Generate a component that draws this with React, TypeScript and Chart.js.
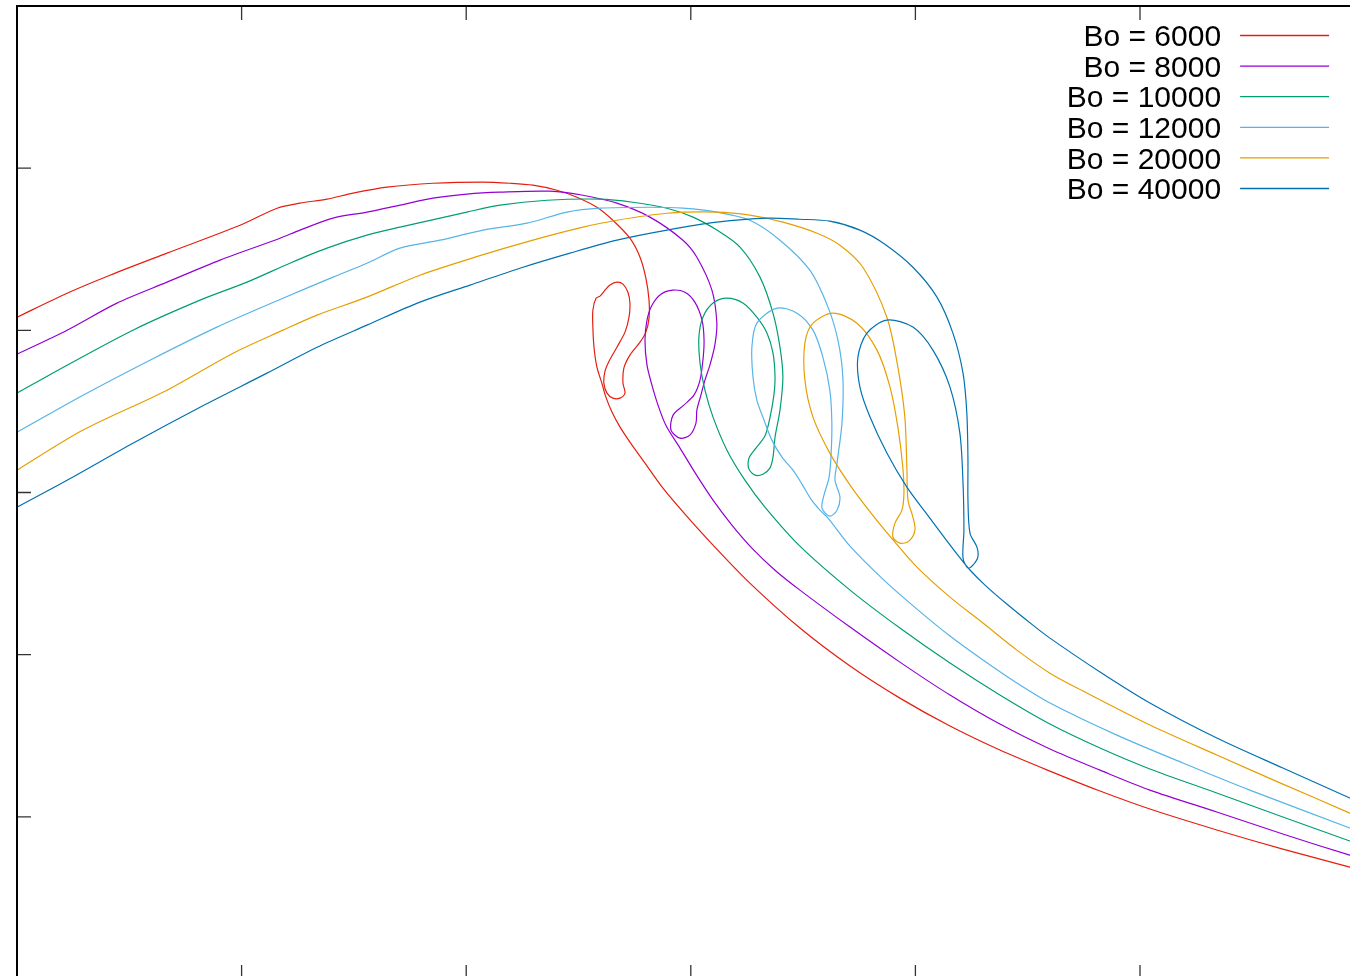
import React, { useEffect, useRef } from "react";
import { Chart, registerables } from "chart.js";

Chart.register(...registerables);

const seriesLabels = ["Bo = 6000", "Bo = 8000", "Bo = 10000", "Bo = 12000", "Bo = 20000", "Bo = 40000"];
const seriesColors = ["#e51e10", "#9400d3", "#009e73", "#56b4e9", "#e69f00", "#0072b2"];
const xTicks = [1, 2, 3, 4, 5];
const yTicks = [1, 2, 3, 4, 5];

const bo6000: [number, number][] = [
  [0, 4.081], [0.223, 4.229], [0.414, 4.34], [0.668, 4.476], [0.993, 4.648], [1.158, 4.753], [1.26, 4.784],
  [1.38, 4.809], [1.496, 4.846], [1.647, 4.883], [1.852, 4.907], [2.075, 4.914], [2.195, 4.907], [2.297, 4.895],
  [2.404, 4.864], [2.493, 4.821], [2.582, 4.759], [2.653, 4.679], [2.729, 4.568], [2.774, 4.451], [2.8, 4.322],
  [2.814, 4.186], [2.814, 4.075], [2.8, 3.989], [2.774, 3.927], [2.729, 3.847], [2.702, 3.767], [2.698, 3.674],
  [2.707, 3.613], [2.685, 3.582], [2.653, 3.582], [2.627, 3.613], [2.613, 3.674], [2.618, 3.748], [2.636, 3.81],
  [2.671, 3.896], [2.707, 3.989], [2.725, 4.081], [2.729, 4.168], [2.72, 4.235], [2.698, 4.285], [2.671, 4.297],
  [2.64, 4.279], [2.618, 4.248], [2.596, 4.211], [2.578, 4.198], [2.564, 4.124], [2.564, 4.02], [2.569, 3.896],
  [2.582, 3.773], [2.604, 3.674], [2.622, 3.588], [2.649, 3.496], [2.685, 3.403], [2.729, 3.311], [2.796, 3.181],
  [2.876, 3.027], [2.974, 2.867], [3.099, 2.676], [3.263, 2.441], [3.486, 2.164], [3.709, 1.93], [3.931, 1.732],
  [4.154, 1.56], [4.376, 1.412], [4.599, 1.282], [4.822, 1.159], [5.044, 1.048], [5.342, 0.919], [5.636, 0.801],
  [5.934, 0.69], [6.001, 0.666],
];

const bo8000: [number, number][] = [
  [0, 3.853], [0.223, 4.001], [0.445, 4.168], [0.668, 4.297], [0.904, 4.433], [1.171, 4.568], [1.26, 4.618],
  [1.407, 4.692], [1.558, 4.729], [1.705, 4.772], [1.852, 4.815], [2.003, 4.84], [2.15, 4.852], [2.373, 4.858],
  [2.52, 4.833], [2.671, 4.784], [2.818, 4.698], [2.965, 4.556], [3.027, 4.451], [3.094, 4.248], [3.116, 4.044],
  [3.107, 3.909], [3.085, 3.785], [3.063, 3.693], [3.045, 3.6], [3.027, 3.508], [3.023, 3.428], [2.996, 3.354],
  [2.952, 3.335], [2.912, 3.385], [2.921, 3.477], [2.969, 3.539], [3.014, 3.6], [3.041, 3.693], [3.054, 3.816],
  [3.059, 3.939], [3.05, 4.063], [3.018, 4.174], [2.974, 4.235], [2.921, 4.248], [2.867, 4.223], [2.827, 4.155],
  [2.805, 4.063], [2.796, 3.939], [2.805, 3.785], [2.827, 3.662], [2.854, 3.539], [2.889, 3.415], [2.952, 3.274],
  [3.023, 3.113], [3.099, 2.953], [3.183, 2.799], [3.272, 2.657], [3.375, 2.521], [3.486, 2.398], [3.709, 2.17],
  [3.931, 1.954], [4.154, 1.751], [4.376, 1.572], [4.599, 1.418], [4.822, 1.288], [5.044, 1.165], [5.342, 1.03],
  [5.636, 0.894], [5.934, 0.764], [6.001, 0.74],
];

const bo10000: [number, number][] = [
  [0, 3.613], [0.223, 3.785], [0.516, 4.001], [0.815, 4.186], [1.024, 4.297], [1.215, 4.414], [1.38, 4.507],
  [1.558, 4.587], [1.705, 4.636], [2.003, 4.729], [2.15, 4.772], [2.36, 4.802], [2.596, 4.809], [2.742, 4.79],
  [2.894, 4.753], [3.01, 4.698], [3.116, 4.618], [3.219, 4.513], [3.308, 4.328], [3.366, 4.106], [3.397, 3.896],
  [3.41, 3.711], [3.397, 3.508], [3.375, 3.341], [3.366, 3.218], [3.352, 3.15], [3.321, 3.113], [3.286, 3.107],
  [3.259, 3.144], [3.259, 3.212], [3.29, 3.274], [3.33, 3.348], [3.352, 3.459], [3.37, 3.6], [3.375, 3.711],
  [3.366, 3.859], [3.339, 3.983], [3.294, 4.081], [3.232, 4.168], [3.161, 4.198], [3.099, 4.168], [3.054, 4.081],
  [3.036, 3.958], [3.041, 3.798], [3.063, 3.631], [3.099, 3.465], [3.161, 3.261], [3.241, 3.076], [3.33, 2.91],
  [3.486, 2.669], [3.709, 2.398], [3.931, 2.164], [4.154, 1.948], [4.376, 1.751], [4.599, 1.572], [4.822, 1.424],
  [5.044, 1.295], [5.342, 1.147], [5.636, 0.999], [5.934, 0.851], [6.001, 0.82],
];

const bo12000: [number, number][] = [
  [0, 3.372], [0.294, 3.6], [0.592, 3.816], [0.89, 4.02], [1.184, 4.198], [1.407, 4.328], [1.558, 4.414],
  [1.705, 4.507], [1.883, 4.556], [2.075, 4.618], [2.271, 4.661], [2.449, 4.729], [2.596, 4.753], [2.818, 4.759],
  [2.965, 4.753], [3.116, 4.729], [3.263, 4.679], [3.397, 4.556], [3.53, 4.371], [3.611, 4.143], [3.655, 3.939],
  [3.677, 3.711], [3.673, 3.428], [3.651, 3.181], [3.642, 3.076], [3.664, 2.972], [3.651, 2.891], [3.619, 2.854],
  [3.584, 2.904], [3.593, 2.984], [3.615, 3.089], [3.624, 3.218], [3.628, 3.428], [3.619, 3.631], [3.588, 3.835],
  [3.544, 4.001], [3.473, 4.106], [3.384, 4.137], [3.294, 4.044], [3.272, 3.896], [3.277, 3.711], [3.294, 3.57],
  [3.321, 3.465], [3.361, 3.323], [3.406, 3.218], [3.455, 3.138], [3.495, 3.052], [3.535, 2.959], [3.575, 2.891],
  [3.611, 2.842], [3.709, 2.669], [3.855, 2.466], [4.007, 2.281], [4.154, 2.115], [4.301, 1.967], [4.452, 1.825],
  [4.599, 1.702], [4.897, 1.504], [5.191, 1.332], [5.489, 1.165], [5.934, 0.931], [6.001, 0.894],
];

const bo20000: [number, number][] = [
  [0, 3.138], [0.294, 3.385], [0.668, 3.631], [0.962, 3.859], [1.184, 4.001], [1.336, 4.094], [1.558, 4.205],
  [1.794, 4.34], [2.039, 4.451], [2.297, 4.556], [2.52, 4.636], [2.671, 4.679], [2.894, 4.722], [3.116, 4.729],
  [3.263, 4.71], [3.41, 4.667], [3.562, 4.599], [3.664, 4.525], [3.766, 4.389], [3.873, 4.081], [3.922, 3.773],
  [3.953, 3.465], [3.962, 3.156], [3.967, 2.953], [3.989, 2.848], [3.998, 2.768], [3.971, 2.7], [3.931, 2.688],
  [3.9, 2.725], [3.909, 2.811], [3.94, 2.891], [3.949, 2.996], [3.944, 3.156], [3.922, 3.403], [3.887, 3.65],
  [3.829, 3.878], [3.74, 4.044], [3.633, 4.106], [3.544, 4.044], [3.508, 3.921], [3.508, 3.693], [3.544, 3.465],
  [3.619, 3.243], [3.709, 3.046], [3.806, 2.867], [3.909, 2.694], [4.007, 2.54], [4.154, 2.355], [4.301, 2.195],
  [4.452, 2.028], [4.599, 1.886], [4.746, 1.776], [5.044, 1.566], [5.342, 1.381], [5.636, 1.202], [5.934, 1.023],
  [6.001, 0.98],
];

const bo40000: [number, number][] = [
  [0, 2.91], [0.223, 3.076], [0.516, 3.304], [0.815, 3.526], [1.113, 3.736], [1.336, 3.896], [1.558, 4.032],
  [1.794, 4.174], [2.017, 4.279], [2.239, 4.383], [2.462, 4.476], [2.671, 4.556], [2.894, 4.618], [3.116, 4.667],
  [3.339, 4.692], [3.486, 4.685], [3.619, 4.673], [3.753, 4.618], [3.864, 4.531], [3.989, 4.389], [4.096, 4.205],
  [4.167, 3.983], [4.212, 3.736], [4.229, 3.489], [4.234, 3.2], [4.234, 2.953], [4.243, 2.75], [4.274, 2.663],
  [4.278, 2.602], [4.256, 2.552], [4.234, 2.534], [4.212, 2.596], [4.216, 2.768], [4.212, 3.058], [4.198, 3.366],
  [4.154, 3.65], [4.078, 3.878], [3.989, 4.02], [3.873, 4.063], [3.784, 3.983], [3.744, 3.835], [3.753, 3.65],
  [3.798, 3.465], [3.873, 3.243], [3.962, 3.033], [4.051, 2.867], [4.131, 2.719], [4.189, 2.614], [4.243, 2.522],
  [4.31, 2.429], [4.407, 2.312], [4.523, 2.182], [4.599, 2.102], [4.822, 1.893], [5.044, 1.702], [5.342, 1.486],
  [5.636, 1.301], [5.934, 1.116], [6.001, 1.073],
];

const seriesData = [bo6000, bo8000, bo10000, bo12000, bo20000, bo40000];

const framePlugin = {
  id: "gnuFrame",
  afterDatasetsDraw(chart: any) {
    const { ctx, chartArea: a, scales } = chart;
    ctx.save();
    ctx.strokeStyle = "#333";
    ctx.lineWidth = 1.3;
    const tl = 14;
    xTicks.forEach((v) => {
      const px = scales.x.getPixelForValue(v);
      ctx.beginPath();
      ctx.moveTo(px, a.top);
      ctx.lineTo(px, a.top + tl);
      ctx.moveTo(px, a.bottom);
      ctx.lineTo(px, a.bottom - tl);
      ctx.stroke();
    });
    yTicks.forEach((v) => {
      const py = scales.y.getPixelForValue(v);
      ctx.beginPath();
      ctx.moveTo(a.left, py);
      ctx.lineTo(a.left + tl, py);
      ctx.moveTo(a.right, py);
      ctx.lineTo(a.right - tl, py);
      ctx.stroke();
    });
    ctx.strokeStyle = "#000";
    ctx.lineWidth = 2;
    ctx.strokeRect(a.left, a.top, a.right - a.left, a.bottom - a.top);

    const textRight = a.right - 143.5;
    const lineStart = a.right - 124.5;
    const lineEnd = a.right - 35.5;
    const firstY = a.top + 29.5;
    const rowH = 30.6;
    ctx.font = "30px 'Liberation Sans', Arial, sans-serif";
    ctx.textAlign = "right";
    ctx.textBaseline = "alphabetic";
    chart.data.datasets.forEach((ds: any, i: number) => {
      const y = firstY + i * rowH;
      ctx.fillStyle = "#000";
      ctx.fillText(ds.label, textRight, y + 10.7);
      ctx.strokeStyle = ds.borderColor;
      ctx.lineWidth = 1.3;
      ctx.beginPath();
      ctx.moveTo(lineStart, y);
      ctx.lineTo(lineEnd, y);
      ctx.stroke();
    });
    ctx.restore();
  },
};

export default function App() {
  const canvasRef = useRef<HTMLCanvasElement | null>(null);

  useEffect(() => {
    const canvas = canvasRef.current;
    if (!canvas) return;
    const chart = new Chart(canvas, {
      type: "scatter",
      data: {
        datasets: seriesData.map((pts, i) => ({
          label: seriesLabels[i],
          data: pts.map(([x, y]) => ({ x, y })),
          showLine: true,
          borderColor: seriesColors[i],
          backgroundColor: seriesColors[i],
          borderWidth: 1.2,
          pointRadius: 0,
          pointHoverRadius: 0,
          fill: false,
          tension: 0.3,
          order: seriesData.length - i,
        })),
      },
      options: {
        responsive: false,
        devicePixelRatio: 1,
        animation: false,
        events: [],
        layout: { padding: { left: 17, top: 6, right: 35.4, bottom: 21 } },
        scales: {
          x: { type: "linear", min: 0, max: 6, display: false },
          y: { type: "linear", min: 0, max: 6, display: false },
        },
        plugins: {
          legend: { display: false },
          tooltip: { enabled: false },
        },
      },
      plugins: [framePlugin],
    });
    return () => chart.destroy();
  }, []);

  return (
    <div
      style={{
        position: "fixed",
        left: 0,
        top: 0,
        width: 1350,
        height: 976,
        overflow: "hidden",
        background: "#fff",
      }}
    >
      <canvas
        ref={canvasRef}
        width={1400}
        height={1000}
        style={{ position: "absolute", left: 0, top: 0, width: 1400, height: 1000 }}
      />
    </div>
  );
}
